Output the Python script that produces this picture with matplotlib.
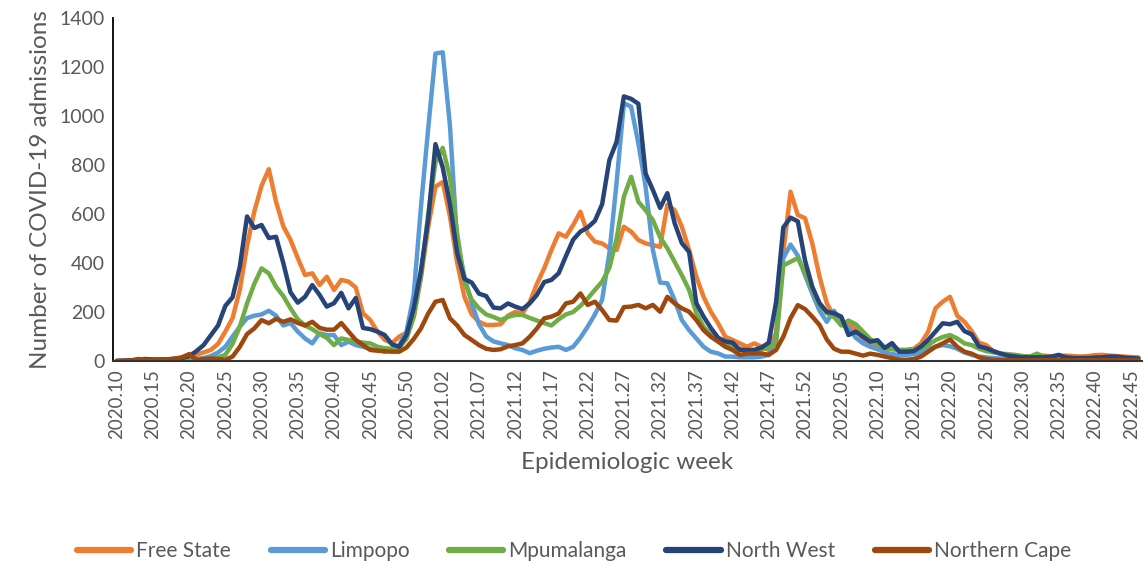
import matplotlib
matplotlib.use("Agg")
import matplotlib.pyplot as plt

plt.rcParams['font.family'] = ['Lato', 'DejaVu Sans']

# Epidemiologic week categories
year_ranges = [(2020, 10, 53), (2021, 1, 52), (2022, 1, 46)]
week_labels = [f"{y}.{w:02d}" for (y, a, b) in year_ranges for w in range(a, b + 1)]

free_state = [0, 1, 2, 5, 8, 5, 5, 6, 8, 10, 15,
              25, 35, 45, 70, 120, 175, 290, 470, 610, 715,
              783, 650, 550, 494, 420, 351, 358, 310, 344, 290,
              331, 324, 300, 195, 167, 120, 86, 73, 100, 115,
              180, 340, 548, 712, 730, 590, 400, 262, 190, 160,
              147, 147, 150, 185, 200, 194, 240, 315, 378, 453,
              521, 507, 555, 609, 521, 487, 480, 460, 453, 548,
              528, 494, 480, 473, 466, 637, 616, 548, 453, 344,
              262, 201, 154, 99, 86, 72, 58, 72, 58, 45,
              115, 445, 691, 596, 583, 480, 344, 236, 181, 160,
              154, 126, 92, 72, 62, 55, 50, 45, 45, 50,
              72, 120, 215, 242, 262, 185, 160, 122, 75, 65,
              40, 30, 25, 22, 20, 18, 20, 22, 18, 20,
              22, 20, 18, 20, 24, 25, 22, 20, 18, 16, 15]

limpopo = [0, 0, 2, 4, 6, 5, 5, 6, 7, 8, 10,
           8, 12, 20, 35, 58, 100, 140, 175, 185, 190,
           205, 185, 145, 155, 120, 92, 72, 113, 106, 106,
           65, 79, 65, 58, 50, 45, 38, 45, 65, 120,
           270, 630, 950, 1255, 1260, 960, 480, 345, 236, 150,
           100, 80, 72, 65, 52, 45, 32, 42, 50, 55,
           58, 45, 58, 95, 140, 190, 250, 440, 730, 1052,
           1038, 888, 711, 453, 320, 317, 249, 167, 126, 92,
           58, 38, 31, 18, 18, 15, 15, 15, 18, 25,
           90, 420, 475, 430, 350, 275, 205, 160, 205, 150,
           135, 95, 72, 58, 48, 35, 28, 25, 25, 28,
           35, 48, 58, 65, 60, 50, 35, 25, 18, 15,
           12, 10, 10, 10, 10, 10, 10, 10, 10, 10,
           10, 10, 10, 10, 10, 10, 10, 10, 10, 10, 10]

mpumalanga = [0, 0, 1, 2, 2, 3, 3, 3, 4, 5, 8,
              5, 5, 8, 15, 25, 70, 140, 235, 315, 378,
              358, 303, 265, 215, 170, 145, 130, 110, 95, 65,
              92, 86, 80, 75, 72, 58, 52, 50, 55, 90,
              180, 350, 600, 810, 870, 750, 520, 325, 250, 215,
              190, 180, 167, 180, 188, 188, 176, 165, 155, 145,
              170, 190, 200, 225, 255, 290, 324, 380, 500, 671,
              752, 650, 615, 575, 505, 460, 405, 350, 290, 195,
              140, 106, 86, 70, 58, 50, 45, 45, 48, 55,
              70, 390, 405, 420, 360, 290, 230, 195, 180, 145,
              165, 150, 120, 90, 68, 52, 48, 45, 45, 48,
              52, 65, 85, 98, 106, 92, 72, 65, 50, 40,
              35, 30, 28, 25, 20, 18, 30, 18, 15, 15,
              15, 15, 12, 12, 15, 12, 12, 12, 12, 12, 12]

north_west = [0, 1, 3, 5, 8, 6, 6, 7, 9, 12, 20,
              40, 65, 105, 145, 225, 260, 385, 590, 543, 555,
              502, 507, 400, 280, 238, 262, 310, 270, 222, 236,
              278, 215, 257, 135, 130, 120, 106, 68, 58, 106,
              215, 370, 580, 885, 790, 640, 440, 335, 320, 275,
              265, 218, 215, 235, 222, 212, 235, 270, 322, 331,
              358, 428, 495, 528, 545, 572, 640, 820, 895, 1080,
              1070, 1050, 765, 698, 625, 685, 563, 481, 445, 236,
              181, 135, 95, 80, 75, 45, 45, 45, 55, 75,
              240, 545, 585, 570, 410, 303, 236, 201, 195, 181,
              106, 120, 99, 79, 85, 53, 73, 38, 38, 40,
              59, 86, 120, 154, 150, 160, 122, 108, 60, 52,
              40, 30, 22, 18, 15, 15, 15, 15, 18, 25,
              15, 12, 12, 12, 14, 15, 18, 18, 14, 12, 10]

northern_cape = [0, 1, 2, 8, 5, 4, 5, 6, 10, 15, 28,
                 5, 8, 10, 8, 5, 18, 58, 110, 133, 167,
                 154, 172, 160, 170, 155, 145, 160, 135, 128, 128,
                 155, 120, 86, 65, 45, 42, 40, 38, 38, 55,
                 90, 133, 194, 242, 249, 174, 145, 106, 86, 65,
                 50, 45, 48, 60, 65, 72, 99, 133, 174, 181,
                 194, 235, 242, 276, 229, 242, 208, 167, 165, 220,
                 222, 229, 215, 229, 201, 262, 235, 215, 201, 167,
                 126, 99, 79, 58, 45, 25, 30, 31, 31, 25,
                 45, 99, 175, 228, 212, 181, 147, 88, 50, 38,
                 38, 30, 22, 30, 25, 18, 12, 6, 5, 8,
                 18, 38, 58, 72, 88, 58, 38, 30, 15, 8,
                 5, 4, 3, 3, 3, 3, 3, 3, 3, 3,
                 3, 3, 3, 3, 3, 3, 3, 3, 3, 3, 3]

series_names = ["Free State", "Limpopo", "Mpumalanga", "North West", "Northern Cape"]
series_values = [free_state, limpopo, mpumalanga, north_west, northern_cape]
series_colors = ["#ED7D31", "#5B9BD5", "#70AD47", "#264478", "#9E480E"]

y_ticks = [0, 200, 400, 600, 800, 1000, 1200, 1400]
text_color = "#595959"

fig = plt.figure(figsize=(11.48, 5.68), dpi=100)
ax = fig.add_axes([113 / 1148, 1 - 361 / 568, (1142 - 113) / 1148, (361 - 18) / 568])

x = list(range(len(week_labels)))
for name, vals, col in zip(series_names, series_values, series_colors):
    ax.plot(x, vals, color=col, lw=3.2, label=name,
            solid_joinstyle="round", solid_capstyle="round")

ax.set_xlim(-0.5, len(week_labels) - 0.5)
ax.set_ylim(0, 1400)
ax.set_yticks(y_ticks)
ax.set_yticklabels([str(v) for v in y_ticks], fontsize=14, color=text_color)
ax.set_xticks(x[::5])
ax.set_xticklabels(week_labels[::5], rotation=90, fontsize=13.5, color=text_color)
ax.tick_params(axis="both", length=0)
ax.tick_params(axis="x", pad=6)
ax.tick_params(axis="y", pad=6)

for s in ["top", "right"]:
    ax.spines[s].set_visible(False)
ax.spines["left"].set_color("black")
ax.spines["left"].set_linewidth(1.3)
ax.spines["bottom"].set_color("#333333")
ax.spines["bottom"].set_linewidth(1.5)

ax.set_ylabel("Number of COVID-19 admissions", fontsize=17.5, color=text_color, labelpad=6)
ax.set_xlabel("Epidemiologic week", fontsize=17.5, color=text_color, labelpad=9)

leg = fig.legend(loc="center", bbox_to_anchor=(0.5, 1 - 551 / 568), ncol=5, frameon=False,
                 fontsize=15, handlelength=2.6, handletextpad=0.25, columnspacing=1.9)
for t in leg.get_texts():
    t.set_color(text_color)
for h in leg.legend_handles:
    h.set_linewidth(4.5)

fig.savefig("out.png", dpi=100)
